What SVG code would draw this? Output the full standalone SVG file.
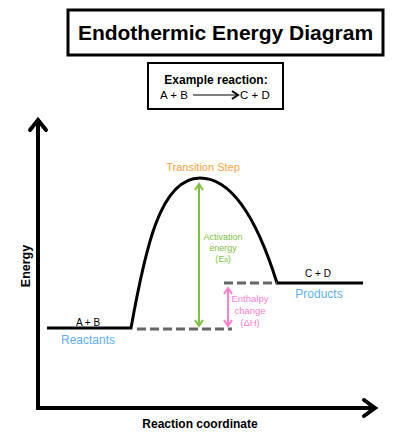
<svg xmlns="http://www.w3.org/2000/svg" width="407" height="447" viewBox="0 0 407 447">
<style>
text{font-family:"Liberation Sans",Arial,sans-serif}
.b{font-weight:bold}
.box{fill:#fff;stroke:#000}
.axis{fill:none;stroke:#000;stroke-width:4;stroke-linecap:square}
.head{fill:none;stroke:#000;stroke-width:4;stroke-linecap:round;stroke-linejoin:miter}
.curve{fill:none;stroke:#000;stroke-width:3}
.dash{fill:none;stroke:#666;stroke-width:3;stroke-dasharray:9 4}
.blue{fill:#5eb0f3}
</style>
<defs>
<marker id="ah" viewBox="0 0 10 10" refX="8" refY="5" markerWidth="10" markerHeight="10" markerUnits="userSpaceOnUse" orient="auto-start-reverse">
<path d="M2,1 L8,5 L2,9" fill="none" stroke="context-stroke" stroke-width="2"/>
</marker>
</defs>
<g id="title"><rect class="box" x="68" y="10" width="315" height="45" stroke-width="3"/><text class="b" x="225.5" y="40" font-size="21" text-anchor="middle">Endothermic Energy Diagram</text></g>
<g id="example"><rect class="box" x="148" y="63" width="135" height="46" stroke-width="2"/><text class="b" x="216" y="84" font-size="12" text-anchor="middle">Example reaction:</text><text x="160" y="99" font-size="11.5">A + B</text><text x="240" y="99" font-size="11.5">C + D</text></g>
<g id="connectors">
<path class="axis" d="M38,122 V408 H372"/>
<path class="head" d="M30,130 L38,120 L46,130"/>
<path class="head" d="M364,400 L375,408 L364,416"/>
<line x1="193" y1="95" x2="238" y2="95" stroke="#000" stroke-width="1.2" marker-end="url(#ah)"/>
<path class="curve" d="M47,328 H131 C145,250 160,178 200,178 C237,178 262,235 277,283 H363"/>
<line class="dash" x1="137" y1="329" x2="232" y2="329"/>
<line class="dash" x1="224" y1="283" x2="277" y2="283"/>
<line x1="199" y1="184" x2="199" y2="326" stroke="#7cc142" stroke-width="2" marker-start="url(#ah)" marker-end="url(#ah)"/>
<line x1="228" y1="288" x2="228" y2="326" stroke="#ff80d0" stroke-width="2" marker-start="url(#ah)" marker-end="url(#ah)"/>
</g>
<g id="reactants"><text x="88" y="326" font-size="10" text-anchor="middle">A + B</text><text class="blue" x="88" y="344" font-size="12" text-anchor="middle">Reactants</text></g>
<g id="products"><text x="318" y="277" font-size="10" text-anchor="middle">C + D</text><text class="blue" x="319" y="298" font-size="12" text-anchor="middle">Products</text></g>
<g id="transition"><text x="203" y="171" font-size="11" text-anchor="middle" fill="#f7a440">Transition Step</text></g>
<g id="activation" fill="#7cc142" font-size="9"><text x="223" y="240" text-anchor="middle">Activation</text><text x="223" y="251" text-anchor="middle">energy</text><text x="223" y="262" text-anchor="middle">(E<tspan font-size="6.5">a</tspan>)</text></g>
<g id="enthalpy" fill="#ff80d0" font-size="9.5"><text x="250" y="302" text-anchor="middle">Enthalpy</text><text x="250" y="314" text-anchor="middle">change</text><text x="250" y="326" text-anchor="middle">(ΔH)</text></g>
<g id="labels"><text class="b" transform="translate(30,266) rotate(-90)" font-size="12.5" text-anchor="middle">Energy</text><text class="b" x="200" y="428" font-size="12" text-anchor="middle">Reaction coordinate</text></g>
</svg>
